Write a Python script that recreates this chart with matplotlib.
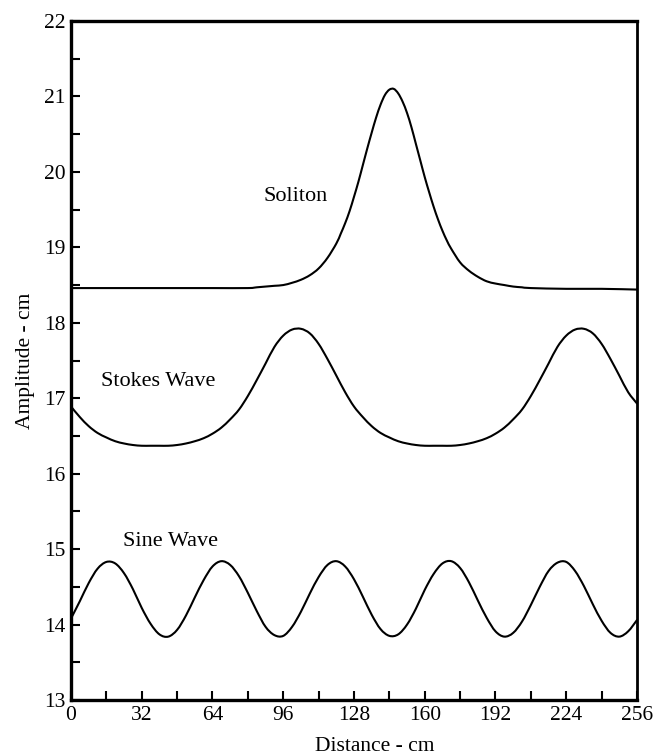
import numpy as np
import matplotlib
matplotlib.use("Agg")
import matplotlib.pyplot as plt
from matplotlib.ticker import MultipleLocator
from matplotlib.path import Path
from matplotlib.patches import PathPatch

plt.rcParams['font.family'] = ['Liberation Serif', 'DejaVu Serif']

# ---- data ----
distance = np.arange(0, 257, 4)

sine_wave = [14.08, 14.31, 14.55, 14.74, 14.83, 14.81, 14.68, 14.47, 14.22, 14.01,
             13.87, 13.84, 13.93, 14.12, 14.36, 14.59, 14.77, 14.84, 14.79, 14.64,
             14.42, 14.18, 13.97, 13.86, 13.85, 13.97, 14.17, 14.41, 14.63, 14.79,
             14.84, 14.77, 14.60, 14.37, 14.13, 13.94, 13.85, 13.87, 14.00, 14.21,
             14.46, 14.67, 14.81, 14.84, 14.75, 14.56, 14.32, 14.09, 13.91, 13.84,
             13.89, 14.04, 14.26, 14.50, 14.71, 14.82, 14.83, 14.71, 14.51, 14.27,
             14.05, 13.89, 13.84, 13.91, 14.06]

stokes_wave = [16.89, 16.75, 16.63, 16.54, 16.48, 16.43, 16.40, 16.38, 16.37, 16.37,
               16.37, 16.37, 16.38, 16.40, 16.43, 16.47, 16.53, 16.61, 16.72, 16.85,
               17.03, 17.24, 17.46, 17.68, 17.83, 17.91, 17.92, 17.86, 17.72, 17.52,
               17.30, 17.08, 16.89,
               16.75, 16.63, 16.54, 16.48, 16.43, 16.40, 16.38, 16.37, 16.37, 16.37,
               16.37, 16.38, 16.40, 16.43, 16.47, 16.53, 16.61, 16.72, 16.85, 17.03,
               17.24, 17.46, 17.68, 17.83, 17.91, 17.92, 17.86, 17.72, 17.52, 17.30,
               17.08, 16.93]

soliton_x = [0, 16, 32, 48, 64, 80, 84, 88, 92, 96, 100, 104, 108, 112, 116, 120,
             122, 124, 126, 128, 130, 132, 134, 136, 138, 140, 142, 144, 146, 148,
             150, 152, 154, 156, 158, 160, 162, 164, 166, 168, 170, 172, 176, 180,
             184, 188, 192, 196, 200, 204, 208, 224, 240, 256]
soliton = [18.46, 18.46, 18.46, 18.46, 18.46, 18.46, 18.47, 18.48, 18.49, 18.50,
           18.53, 18.57, 18.63, 18.72, 18.86, 19.05, 19.18, 19.32, 19.48, 19.67,
           19.87, 20.09, 20.31, 20.52, 20.72, 20.89, 21.02, 21.09, 21.10, 21.04,
           20.93, 20.78, 20.59, 20.37, 20.15, 19.93, 19.73, 19.54, 19.37, 19.22,
           19.09, 18.98, 18.80, 18.69, 18.61, 18.55, 18.52, 18.50, 18.48, 18.47,
           18.46, 18.45, 18.45, 18.44]

labels = ["Soliton", "Stokes Wave", "Sine Wave"]
label_pos = [(101.8, 19.68), (39.4, 17.22), (44.8, 15.10)]

x_ticks = [0, 32, 64, 96, 128, 160, 192, 224, 256]
y_ticks = [13, 14, 15, 16, 17, 18, 19, 20, 21, 22]


def smooth_curve(ax, xs, ys, **kw):
    """Draw a smooth curve through the given data points (Catmull-Rom as Bezier)."""
    p = np.column_stack([np.asarray(xs, float), np.asarray(ys, float)])
    n = len(p)
    verts = [p[0]]
    codes = [Path.MOVETO]
    for i in range(n - 1):
        p0 = p[i - 1] if i > 0 else p[i]
        p1 = p[i]
        p2 = p[i + 1]
        p3 = p[i + 2] if i + 2 < n else p[i + 1]
        c1 = p1 + (p2 - p0) / 6.0
        c2 = p2 - (p3 - p1) / 6.0
        verts += [c1, c2, p2]
        codes += [Path.CURVE4] * 3
    patch = PathPatch(Path(verts, codes), fill=False, transform=ax.transData, **kw)
    ax.add_patch(patch)


# ---- figure ----
fig = plt.figure(figsize=(6.54, 7.56), dpi=100)
ax = fig.add_axes([71 / 654, 1 - 700 / 756, (637 - 71) / 654, (700 - 21) / 756])

lw = 1.5
smooth_curve(ax, distance, sine_wave, edgecolor='black', lw=lw, capstyle='round', joinstyle='round')
smooth_curve(ax, distance, stokes_wave, edgecolor='black', lw=lw, capstyle='round', joinstyle='round')
smooth_curve(ax, soliton_x, soliton, edgecolor='black', lw=lw, capstyle='round', joinstyle='round')

for txt, (tx, ty) in zip(labels, label_pos):
    ax.text(tx, ty, txt, fontsize=16, ha='center', va='center')

ax.set_xlim(0, 256)
ax.set_ylim(13, 22)
ax.set_xticks(x_ticks)
ax.set_yticks(y_ticks)
ax.xaxis.set_minor_locator(MultipleLocator(16))
ax.yaxis.set_minor_locator(MultipleLocator(0.5))
ax.tick_params(which='both', direction='in', length=6.5, width=1.5,
               top=False, right=False, labelsize=15.5, pad=4)

for side in ['left', 'bottom', 'top']:
    ax.spines[side].set_linewidth(2.4)
ax.spines['right'].set_linewidth(2.0)

ax.set_xlabel("Distance - cm", fontsize=15.5, labelpad=1)
ax.xaxis.set_label_coords((375 - 71) / 566, -0.054)
ax.set_ylabel("Amplitude - cm", fontsize=15.5, labelpad=6)

fig.savefig("out.png", dpi=100)
